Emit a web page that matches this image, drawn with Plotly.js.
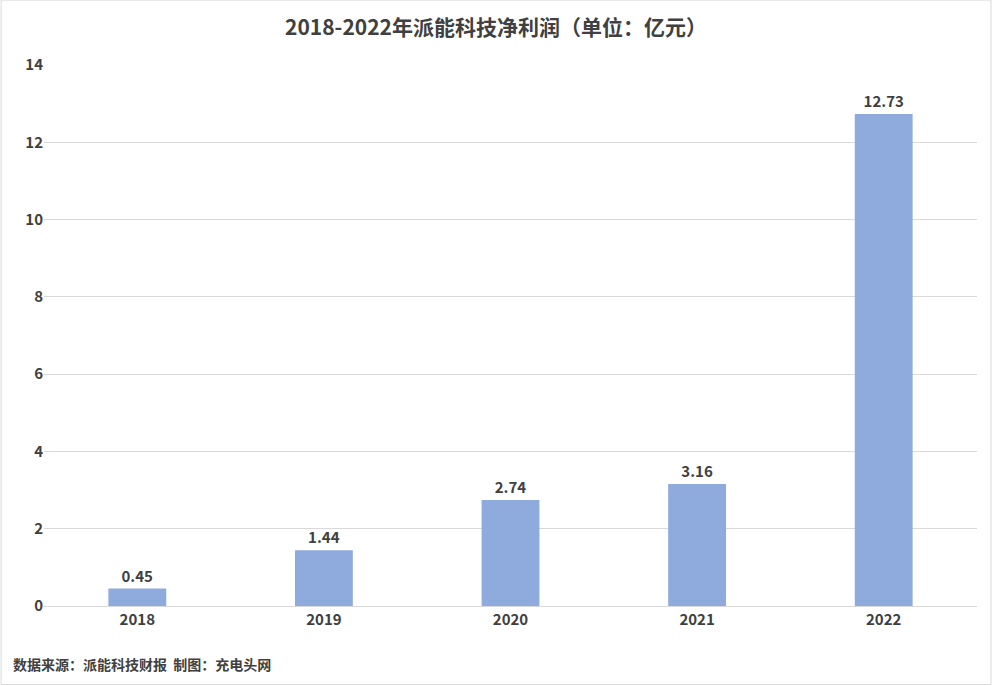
<!DOCTYPE html>
<html><head><meta charset="utf-8">
<script src="https://cdn.plot.ly/plotly-3.0.1.min.js"></script>
<style>html,body{margin:0;padding:0;}#c{width:992px;height:685px;}</style>
</head><body><div id="c"></div>
<script>
const years = ['2018','2019','2020','2021','2022'];
const profit = [0.45, 1.44, 2.74, 3.16, 12.73];
const labels = ['0.45','1.44','2.74','3.16','12.73'];
const font = '"Microsoft YaHei","Noto Sans CJK SC","Liberation Sans",sans-serif';
Plotly.newPlot('c', [{
  type:'bar', x:years, y:profit, text:labels, textposition:'outside',
  textfont:{size:15, color:'#404040', family:font, weight:'bold'},
  marker:{color:'#8FAADC'}, width:0.31, cliponaxis:false, hoverinfo:'none'
}], {
  width:992, height:685,
  margin:{l:44, r:15, t:65, b:79},
  paper_bgcolor:'#fff', plot_bgcolor:'#fff',
  title:{text:'<b>2018-2022年派能科技净利润（单位：亿元）</b>', x:0.5, y:0.96, yanchor:'middle',
    font:{size:21, color:'#404040', family:font}},
  xaxis:{tickfont:{size:15, color:'#404040', family:font, weight:'bold'}, showline:true, linecolor:'#d9d9d9', ticks:''},
  yaxis:{range:[0,14], dtick:2, gridcolor:'#d9d9d9', zeroline:false, tickfont:{size:15, color:'#404040', family:font, weight:'bold'}},
  showlegend:false,
  shapes:[{type:'rect', xref:'paper', yref:'paper', x0:-0.046, x1:1.015, y0:-0.145, y1:1.12, line:{color:'#d9d9d9', width:1}}],
  annotations:[{text:'<b>数据来源：派能科技财报  制图：充电头网</b>', xref:'paper', yref:'paper', x:-0.035, y:-0.13, xanchor:'left', yanchor:'bottom', showarrow:false, font:{size:14, color:'#404040', family:font}}]
}, {displayModeBar:false});
</script></body></html>
